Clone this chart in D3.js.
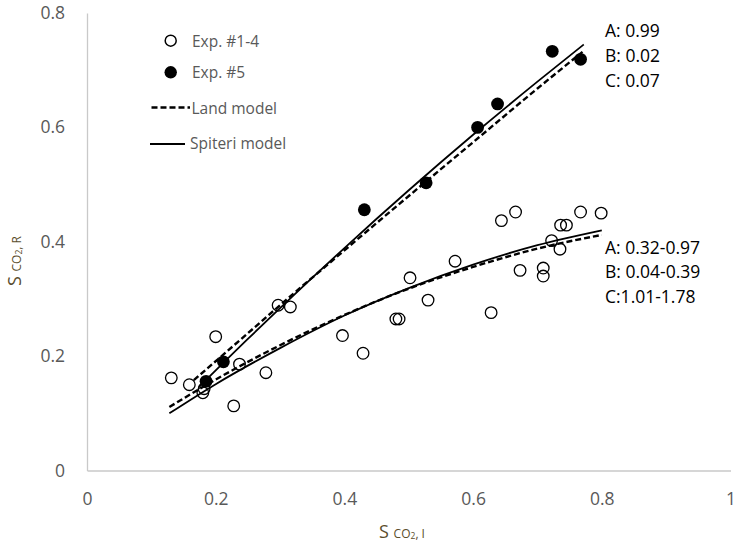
<!DOCTYPE html>
<html>
<head>
<meta charset="utf-8">
<script src="https://cdn.jsdelivr.net/npm/d3@7"></script>
<style>
  html, body { margin: 0; padding: 0; background: #fff; }
  svg { display: block; font-family: "Open Sans", Lato, sans-serif; }
</style>
</head>
<body>
<svg id="chart" width="736" height="548"></svg>
<script>
// Axis ticks
const xTickValues = [0, 0.2, 0.4, 0.6, 0.8, 1];
const yTickValues = [0, 0.2, 0.4, 0.6, 0.8];

// Exp. #1-4 measurements (open circles)
const exp14X = [0.131, 0.159, 0.180, 0.182, 0.200, 0.228, 0.237, 0.278, 0.297, 0.316,
                0.397, 0.429, 0.480, 0.485, 0.502, 0.530, 0.572, 0.628, 0.644, 0.666,
                0.673, 0.709, 0.709, 0.722, 0.735, 0.736, 0.745, 0.767, 0.799];
const exp14Y = [0.162, 0.150, 0.136, 0.143, 0.234, 0.113, 0.186, 0.171, 0.289, 0.286,
                0.236, 0.205, 0.265, 0.265, 0.337, 0.298, 0.366, 0.276, 0.437, 0.452,
                0.350, 0.354, 0.340, 0.402, 0.387, 0.429, 0.429, 0.452, 0.450];

// Exp. #5 measurements (filled circles)
const exp5X = [0.185, 0.212, 0.431, 0.527, 0.607, 0.638, 0.723, 0.767];
const exp5Y = [0.156, 0.190, 0.456, 0.503, 0.600, 0.641, 0.733, 0.719];

// Model curves fitted to Exp. #5
const spiteri5X = [0.174, 0.25, 0.3, 0.4, 0.5, 0.6, 0.7, 0.772];
const spiteri5Y = [0.146, 0.230, 0.284, 0.389, 0.490, 0.587, 0.680, 0.745];
const land5X    = [0.166, 0.25, 0.3, 0.4, 0.5, 0.6, 0.7, 0.770];
const land5Y    = [0.158, 0.240, 0.289, 0.385, 0.480, 0.574, 0.668, 0.732];

// Model curves fitted to Exp. #1-4
const spiteri14X = [0.128, 0.2, 0.3, 0.4, 0.5, 0.6, 0.7, 0.8];
const spiteri14Y = [0.100, 0.151, 0.214, 0.271, 0.319, 0.360, 0.394, 0.420];
const land14X    = [0.128, 0.2, 0.3, 0.4, 0.5, 0.6, 0.7, 0.8];
const land14Y    = [0.111, 0.159, 0.219, 0.272, 0.318, 0.356, 0.388, 0.412];

// Fitted parameter ranges
const fitHighLabels = ["A: 0.99", "B: 0.02", "C: 0.07"];
const fitLowLabels  = ["A: 0.32-0.97", "B: 0.04-0.39", "C:1.01-1.78"];

// Legend entries
const legendLabels = ["Exp. #1-4", "Exp. #5", "Land model", "Spiteri model"];

const svg = d3.select("#chart");
const margin = { left: 87, right: 5.5, top: 13, bottom: 77.5 };
const W = 736, H = 548;

const x = d3.scaleLinear().domain([0, 1]).range([margin.left, W - margin.right]);
const y = d3.scaleLinear().domain([0, 0.8]).range([H - margin.bottom, margin.top]);

const axisColor = "#c9c9c9";
const tickColor = "#595959";
const titleColor = "#5a4d2c";

// Axes
const xAxis = svg.append("g")
  .attr("transform", `translate(0,${y(0)})`)
  .call(d3.axisBottom(x).tickValues(xTickValues).tickSize(0).tickPadding(22)
        .tickFormat(d => d3.format("~g")(d)));
const yAxis = svg.append("g")
  .attr("transform", `translate(${x(0)},0)`)
  .call(d3.axisLeft(y).tickValues(yTickValues).tickSize(0).tickPadding(22)
        .tickFormat(d => d3.format("~g")(d)));

[xAxis, yAxis].forEach(g => {
  g.select(".domain").attr("stroke", axisColor).attr("stroke-width", 1.3);
  g.selectAll("text")
    .attr("fill", tickColor)
    .attr("font-size", 17.5)
    .attr("font-family", "'Open Sans', Lato, sans-serif");
});

// Axis titles
function axisTitle(sel, suffix) {
  sel.append("tspan").attr("font-size", 18).text("S ");
  sel.append("tspan").attr("font-size", 12).text("CO");
  sel.append("tspan").attr("font-size", 8.5).attr("dy", 1.5).text("2");
  sel.append("tspan").attr("font-size", 12).attr("dy", -1.5).text(suffix);
}
svg.append("text")
  .attr("x", 402).attr("y", 537.5)
  .attr("text-anchor", "middle")
  .attr("fill", titleColor)
  .call(axisTitle, ", I");
svg.append("text")
  .attr("transform", "translate(20.5,261) rotate(-90)")
  .attr("text-anchor", "middle")
  .attr("fill", titleColor)
  .call(axisTitle, ", R");

// Model curves
const line = d3.line().curve(d3.curveMonotoneX).x(d => x(d[0])).y(d => y(d[1]));
const curves = [
  { xs: land5X, ys: land5Y, dash: "6,3", w: 2.4 },
  { xs: spiteri5X, ys: spiteri5Y, dash: null, w: 1.8 },
  { xs: land14X, ys: land14Y, dash: "6,3", w: 2.4 },
  { xs: spiteri14X, ys: spiteri14Y, dash: null, w: 1.8 }
];
curves.forEach(c => {
  svg.append("path")
    .datum(d3.zip(c.xs, c.ys))
    .attr("d", line)
    .attr("fill", "none")
    .attr("stroke", "#000")
    .attr("stroke-width", c.w)
    .attr("stroke-dasharray", c.dash);
});

// Measurements
svg.append("g").selectAll("circle")
  .data(d3.zip(exp14X, exp14Y))
  .join("circle")
  .attr("cx", d => x(d[0])).attr("cy", d => y(d[1]))
  .attr("r", 5.8)
  .attr("fill", "none")
  .attr("stroke", "#000")
  .attr("stroke-width", 1.3);

svg.append("g").selectAll("circle")
  .data(d3.zip(exp5X, exp5Y))
  .join("circle")
  .attr("cx", d => x(d[0])).attr("cy", d => y(d[1]))
  .attr("r", 6.4)
  .attr("fill", "#000");

// Fitted parameter labels
svg.append("g").selectAll("text")
  .data(fitHighLabels)
  .join("text")
  .attr("x", 605).attr("y", (d, i) => 36.7 + i * 25)
  .attr("font-size", 17.5).attr("fill", "#000")
  .text(d => d);

svg.append("g").selectAll("text")
  .data(fitLowLabels)
  .join("text")
  .attr("x", 605).attr("y", (d, i) => 254 + i * 24.4)
  .attr("font-size", 17.5).attr("fill", "#000")
  .text(d => d);

// Legend
const legend = svg.append("g").attr("fill", tickColor).attr("font-size", 15.5);
legend.append("circle").attr("cx", 170.7).attr("cy", 40.7).attr("r", 5.5)
  .attr("fill", "none").attr("stroke", "#000").attr("stroke-width", 1.5);
legend.append("circle").attr("cx", 170.7).attr("cy", 72.3).attr("r", 6.2).attr("fill", "#000");
legend.append("line").attr("x1", 151.5).attr("x2", 190).attr("y1", 107.5).attr("y2", 107.5)
  .attr("stroke", "#000").attr("stroke-width", 2.4).attr("stroke-dasharray", "6,3");
legend.append("line").attr("x1", 150).attr("x2", 185).attr("y1", 144).attr("y2", 144)
  .attr("stroke", "#000").attr("stroke-width", 1.8);
const legendPos = [[192, 46.5], [192, 77.5], [191.5, 114], [190, 149]];
legend.selectAll("text")
  .data(legendLabels)
  .join("text")
  .attr("x", (d, i) => legendPos[i][0])
  .attr("y", (d, i) => legendPos[i][1])
  .text(d => d);
</script>
</body>
</html>
